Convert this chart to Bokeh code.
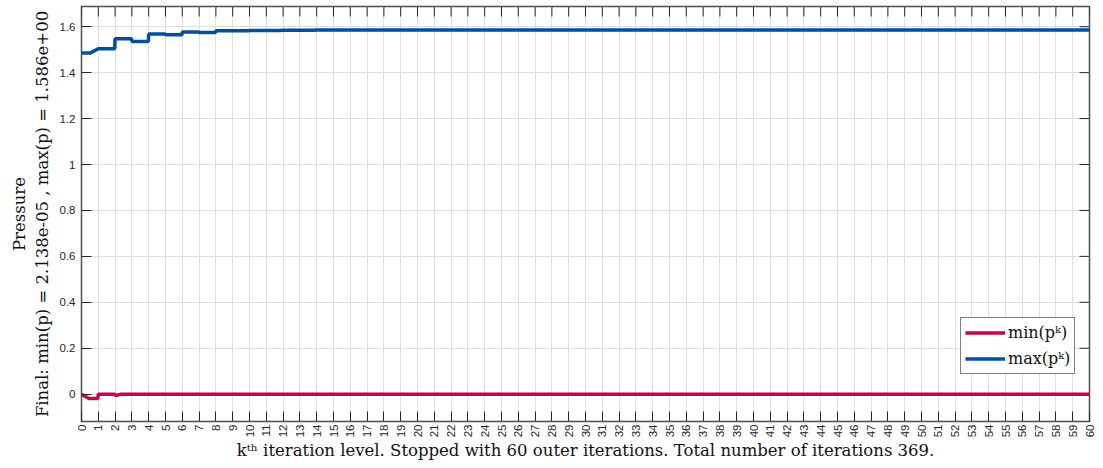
from bokeh.plotting import figure
from bokeh.models import FixedTicker, Range1d, Legend, LegendItem
from bokeh.embed import file_html
from bokeh.resources import INLINE

# ---- data ----
k_max = [0, 0.5, 1.0, 1.98, 2.0, 2.98, 3.0, 3.98, 4.0, 4.98, 5.0, 5.98, 6.0, 6.98, 7.0,
         7.98, 8.0, 8.98, 9.0, 9.98, 10.0, 11.8, 12.0, 13.8, 14.0, 60]
p_max = [1.485, 1.485, 1.504, 1.504, 1.548, 1.548, 1.536, 1.536, 1.568, 1.568, 1.565, 1.565,
         1.577, 1.577, 1.575, 1.575, 1.5825, 1.5825, 1.582, 1.582, 1.584, 1.584, 1.585, 1.585,
         1.586, 1.586]

k_min = [0, 0.45, 0.97, 1.0, 1.97, 2.05, 2.35, 60]
p_min = [0.0, -0.019, -0.019, 0.0, 0.0, -0.006, 0.0, 0.0]

x_ticks = list(range(0, 61))
y_ticks = [0, 0.2, 0.4, 0.6, 0.8, 1.0, 1.2, 1.4, 1.6]
y_tick_labels = ["0", "0.2", "0.4", "0.6", "0.8", "1", "1.2", "1.4", "1.6"]

series_labels = ["min(pᵏ)", "max(pᵏ)"]
x_label = "kᵗʰ iteration level. Stopped with 60 outer iterations. Total number of iterations 369."
y_label = "Pressure\nFinal: min(p) = 2.138e-05 , max(p) = 1.586e+00"

RED = "#C8004E"
BLUE = "#004F9E"
SERIF = "DejaVu Serif"
SANS = "Liberation Sans"
TICK = "#262626"

X0, X1 = 0, 60
Y0, Y1 = -0.119, 1.688
W, H = 1097, 465
ML, MR, MT, MB = 81, 8, 6, 44
FW, FH = W - ML - MR, H - MT - MB

p = figure(width=W, height=H, x_range=Range1d(X0, X1), y_range=Range1d(Y0, Y1),
           output_backend="svg", toolbar_location=None,
           min_border_left=ML, min_border_right=MR, min_border_top=MT, min_border_bottom=MB)

p.outline_line_color = "#4d4d4d"
p.outline_line_width = 1.5

xt = FixedTicker(ticks=x_ticks)
yt = FixedTicker(ticks=y_ticks)

p.xaxis.ticker = xt
p.yaxis.ticker = yt
p.yaxis.major_label_overrides = {t: l for t, l in zip(y_ticks, y_tick_labels)}
p.xaxis.major_label_orientation = 3.14159265 / 2
for ax in (p.xaxis[0], p.yaxis[0]):
    ax.axis_line_color = None
    ax.major_tick_in = 10
    ax.major_tick_out = 0
    ax.major_tick_line_color = TICK
    ax.minor_tick_line_color = None
    ax.major_label_text_font = SANS
    ax.major_label_text_font_size = "11.5px"
    ax.major_label_text_color = TICK
    ax.axis_label_text_font = SERIF
    ax.axis_label_text_font_size = "16.5px"
    ax.axis_label_text_font_style = "normal"
    ax.axis_label_text_color = "#111111"
p.xaxis.axis_label = x_label
p.yaxis.axis_label = y_label
p.xaxis.major_label_standoff = 3
p.yaxis.major_label_standoff = 6
p.xaxis.axis_label_standoff = 1
p.yaxis.axis_label_standoff = 5

# mirrored tick marks on top and right edges (box ticks)
dy = 10 * (Y1 - Y0) / FH
dx = 10 * (X1 - X0) / FW
p.segment(x0=x_ticks, x1=x_ticks, y0=[Y1] * len(x_ticks), y1=[Y1 - dy] * len(x_ticks),
          line_color=TICK, line_width=1)
p.segment(x0=[X1] * len(y_ticks), x1=[X1 - dx] * len(y_ticks), y0=y_ticks, y1=y_ticks,
          line_color=TICK, line_width=1)

p.xgrid.ticker = xt
p.ygrid.ticker = yt
p.xgrid.grid_line_color = "#dedede"
p.ygrid.grid_line_color = "#dedede"

r_min = p.line(k_min, p_min, line_color=RED, line_width=3.5)
r_max = p.line(k_max, p_max, line_color=BLUE, line_width=3.5)

legend = Legend(items=[LegendItem(label=series_labels[0], renderers=[r_min]),
                       LegendItem(label=series_labels[1], renderers=[r_max])],
                location=(879, 47))
legend.border_line_color = "black"
legend.border_line_width = 1
legend.padding = 4
legend.spacing = 5
legend.margin = 0
legend.glyph_width = 40
legend.glyph_height = 21
legend.label_standoff = 3
legend.label_text_font = SERIF
legend.label_text_font_size = "16px"
legend.label_text_color = "#111111"
legend.background_fill_alpha = 1
p.add_layout(legend)

open("out.html", "w").write(file_html(p, INLINE))
